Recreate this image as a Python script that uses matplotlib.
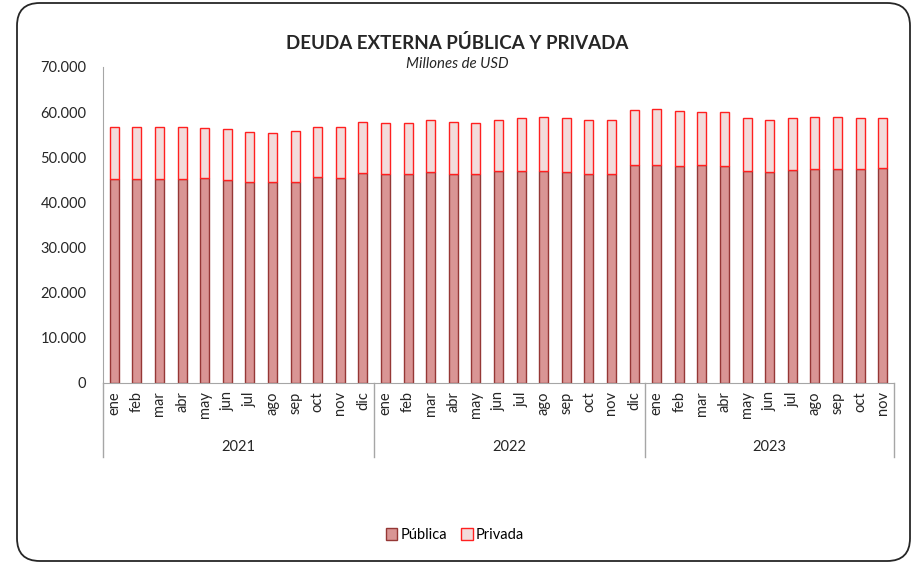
import numpy as np
import matplotlib
matplotlib.use("Agg")
import matplotlib.pyplot as plt
from matplotlib.patches import FancyBboxPatch, Patch
from matplotlib.ticker import FuncFormatter

plt.rcParams['font.family'] = ['Lato', 'DejaVu Sans']

# data (millones de USD)
years = ['2021', '2022', '2023']
months = ['ene', 'feb', 'mar', 'abr', 'may', 'jun', 'jul', 'ago', 'sep', 'oct', 'nov', 'dic']
month_labels = months * 2 + months[:11]

publica = [45200, 45300, 45200, 45300, 45400, 45000, 44600, 44600, 44500, 45600, 45400, 46500,
           46400, 46300, 46700, 46200, 46300, 47000, 47000, 47000, 46700, 46200, 46400, 48400,
           48400, 48100, 48200, 48100, 46900, 46700, 47100, 47300, 47500, 47400, 47700]
total = [56700, 56700, 56700, 56700, 56500, 56300, 55600, 55400, 55800, 56700, 56700, 57800,
         57600, 57600, 58300, 57800, 57600, 58300, 58700, 58900, 58700, 58300, 58300, 60500,
         60700, 60300, 60000, 60000, 58700, 58300, 58700, 58900, 58900, 58700, 58700]
privada = [t - p for t, p in zip(total, publica)]
group_sizes = [12, 12, 11]

fig = plt.figure(figsize=(9.11, 5.63), dpi=100)

# rounded frame
frame = FancyBboxPatch((17 / 911, 2 / 563), 893 / 911, 558 / 563,
                       boxstyle="round,pad=0,rounding_size=0.025",
                       transform=fig.transFigure, facecolor='none',
                       edgecolor='#262626', linewidth=1.3, mutation_aspect=911 / 563)
fig.patches.append(frame)

ax = fig.add_axes([103 / 911, 1 - 383 / 563, 791 / 911, 316 / 563])
ax.patch.set_alpha(0)
x = np.arange(len(publica))
ax.bar(x, publica, width=0.4, color='#D99594', edgecolor='#953735', linewidth=1.0, label='Pública')
ax.bar(x, privada, width=0.4, bottom=publica, color='#F2DCDB', edgecolor='#FF2020',
       linewidth=1.0, label='Privada')

ax.set_xlim(-0.5, len(x) - 0.5)
ax.set_ylim(0, 70000)
ax.set_yticks(np.arange(0, 70001, 10000))
ax.yaxis.set_major_formatter(FuncFormatter(lambda v, p: f"{int(v):,}".replace(',', '.')))
ax.set_xticks(x)
ax.set_xticklabels(month_labels, rotation=90, fontsize=10.5, color='#262626')
ax.tick_params(axis='x', length=0, pad=6)
ax.tick_params(axis='y', length=0, pad=12, labelsize=10.5, labelcolor='#262626')

for s in ['top', 'right']:
    ax.spines[s].set_visible(False)
ax.spines['left'].set_color('#A6A6A6')
ax.spines['bottom'].set_color('#A6A6A6')

# year groups
tr = ax.get_xaxis_transform()
edges = np.concatenate([[0], np.cumsum(group_sizes)]) - 0.5
sep_bottom = -(457 - 383) / 316
for e in edges:
    ax.plot([e, e], [0, sep_bottom], transform=tr, color='#A6A6A6', lw=1, clip_on=False)
for i, yr in enumerate(years):
    ax.text((edges[i] + edges[i + 1]) / 2, -(447 - 383) / 316, yr, transform=tr,
            ha='center', va='center', fontsize=10.5, color='#262626')

fig.text(457 / 911, 1 - 43 / 563, 'DEUDA EXTERNA PÚBLICA Y PRIVADA', ha='center', va='center',
         fontsize=13.5, fontweight='bold', color='#262626')
fig.text(457 / 911, 1 - 64 / 563, 'Millones de USD', ha='center', va='center',
         fontsize=10.8, style='italic', color='#262626')

handles = [Patch(facecolor='#D99594', edgecolor='#953735', label='Pública'),
           Patch(facecolor='#F2DCDB', edgecolor='#FF2020', label='Privada')]
fig.legend(handles=handles, loc='center', bbox_to_anchor=(455 / 911, 1 - 535 / 563), ncol=2,
           frameon=False, fontsize=10.5, handlelength=0.8, handleheight=0.8,
           handletextpad=0.2, columnspacing=1.0)

fig.savefig('out.png', dpi=100)
